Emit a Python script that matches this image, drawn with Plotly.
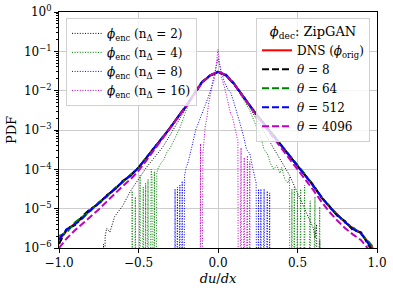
import plotly.graph_objects as go

# ---------------- data (log10 of PDF) ----------------
x_grid = [-1.00, -0.95, -0.90, -0.85, -0.80, -0.75, -0.70, -0.65, -0.60, -0.55,
          -0.50, -0.45, -0.40, -0.35, -0.30, -0.25, -0.20, -0.15, -0.10, -0.05,
          0.00, 0.05, 0.10, 0.15, 0.20, 0.25, 0.30, 0.35, 0.40, 0.45,
          0.50, 0.55, 0.60, 0.65, 0.70, 0.75, 0.80, 0.85, 0.90, 0.95, 1.00]

dns_log = [-5.80, -5.55, -5.38, -5.22, -5.03, -4.86, -4.68, -4.50, -4.32, -4.15,
           -3.96, -3.70, -3.45, -3.20, -2.94, -2.66, -2.39, -2.08, -1.78, -1.62,
           -1.52, -1.62, -1.82, -2.10, -2.38, -2.65, -2.90, -3.15, -3.40, -3.65,
           -3.90, -4.15, -4.42, -4.70, -4.95, -5.15, -5.35, -5.50, -5.62, -5.88, -6.15]
theta8_log = [-5.90, -5.50, -5.42, -5.18, -5.00, -4.88, -4.66, -4.52, -4.30, -4.16,
              -3.95, -3.71, -3.44, -3.21, -2.93, -2.67, -2.38, -2.09, -1.79, -1.62,
              -1.53, -1.61, -1.83, -2.11, -2.37, -2.66, -2.91, -3.14, -3.41, -3.66,
              -3.91, -4.16, -4.40, -4.72, -4.93, -5.18, -5.32, -5.55, -5.60, -5.95, -6.20]
theta64_log = [-5.70, -5.60, -5.35, -5.20, -5.05, -4.84, -4.70, -4.48, -4.33, -4.14,
               -3.97, -3.69, -3.46, -3.19, -2.95, -2.65, -2.40, -2.07, -1.77, -1.61,
               -1.52, -1.59, -1.81, -2.09, -2.39, -2.64, -2.89, -3.16, -3.39, -3.64,
               -3.89, -4.14, -4.43, -4.69, -4.96, -5.14, -5.36, -5.48, -5.65, -5.85, -6.10]
theta512_log = [-5.78, -5.52, -5.40, -5.24, -5.02, -4.87, -4.67, -4.51, -4.31, -4.16,
                -3.96, -3.71, -3.45, -3.20, -2.94, -2.66, -2.39, -2.08, -1.78, -1.61,
                -1.52, -1.60, -1.82, -2.10, -2.38, -2.65, -2.90, -3.15, -3.40, -3.65,
                -3.90, -4.16, -4.42, -4.70, -4.95, -5.16, -5.34, -5.52, -5.63, -5.90, -6.20]
theta4096_log = [-6.00, -5.75, -5.55, -5.38, -5.20, -5.02, -4.82, -4.62, -4.43, -4.25,
                 -4.04, -3.77, -3.50, -3.24, -2.97, -2.68, -2.40, -2.09, -1.79, -1.61,
                 -1.51, -1.60, -1.82, -2.11, -2.40, -2.68, -2.94, -3.20, -3.46, -3.72,
                 -3.98, -4.25, -4.53, -4.82, -5.08, -5.30, -5.50, -5.66, -5.80, -6.05, -6.30]

# encoded fields (None = empty bin, PDF = 0)
enc2_x = [-0.75, -0.72, -0.715, -0.71, -0.70, -0.68, -0.65, -0.60, -0.55, -0.50,
          -0.45, -0.40, -0.35, -0.30, -0.25, -0.20, -0.15, -0.10, -0.05, 0.00,
          0.05, 0.10, 0.15, 0.20, 0.25, 0.30, 0.35, 0.40, 0.45, 0.50,
          0.55, 0.58, 0.60, 0.61, 0.62, 0.63, 0.64, 0.65]
enc2_log = [None, -5.9, None, -5.7, -5.5, -5.6, -5.2, -4.93, -4.55, -4.25,
            -3.95, -3.7, -3.45, -3.12, -2.78, -2.42, -2.09, -1.79, -1.61, -1.53,
            -1.61, -1.83, -2.12, -2.43, -2.78, -3.12, -3.45, -3.8, -4.15, -4.6,
            -5.05, -5.35, -5.5, -5.75, -5.4, None, -5.8, None]

enc4_x = [-0.545, -0.54, -0.53, -0.52, -0.51, -0.49, -0.485, -0.47, -0.465, -0.455,
          -0.45, -0.44, -0.435, -0.42, -0.415, -0.41, -0.40, -0.395, -0.385, -0.38,
          -0.36, -0.34, -0.32, -0.30, -0.27, -0.24, -0.20, -0.15, -0.10, -0.05,
          0.00, 0.05, 0.10, 0.15, 0.20, 0.25, 0.27, 0.29, 0.31, 0.33,
          0.35, 0.37, 0.39, 0.40, 0.42, 0.44, 0.45, 0.455, 0.465, 0.47,
          0.48, 0.485, 0.50, 0.505, 0.52, 0.525, 0.545, 0.55, 0.58, 0.585,
          0.61, 0.615, 0.64, 0.645]
enc4_log = [None, -4.55, None, -4.7, None, -4.15, None, -4.45, None, -4.35,
            None, -4.25, None, -4.0, -4.2, None, -4.05, None, -4.1, -4.0,
            -3.85, -3.75, -3.55, -3.45, -3.2, -2.95, -2.5, -2.1, -1.8, -1.61,
            -1.52, -1.6, -1.82, -2.15, -2.5, -3.0, -3.2, -3.5, -3.6, -3.85,
            -4.0, -3.9, -4.1, -3.95, -4.25, -4.35, -4.2, None, -4.5, None,
            -4.45, None, -4.6, None, -4.5, None, -4.4, None, -4.8, None,
            -4.7, None, -4.95, None]

enc8_x = [-0.275, -0.27, -0.265, -0.255, -0.25, -0.24, -0.235, -0.225, -0.22, -0.21,
          -0.20, -0.19, -0.18, -0.16, -0.14, -0.12, -0.10, -0.08, -0.06, -0.04,
          -0.02, 0.00, 0.02, 0.04, 0.06, 0.08, 0.10, 0.12, 0.14, 0.16,
          0.18, 0.19, 0.20, 0.22, 0.23, 0.24, 0.245, 0.255, 0.26, 0.27,
          0.275, 0.29, 0.295, 0.31, 0.315, 0.325, 0.33]
enc8_log = [None, -4.5, None, -4.45, None, -4.4, None, -4.3, None, -4.15,
            -3.95, -3.85, -3.7, -3.35, -3.0, -2.8, -2.6, -2.4, -2.15, -1.9,
            -1.55, -1.18, -1.5, -1.78, -1.95, -2.05, -2.3, -2.55, -2.85, -3.15,
            -3.5, -3.55, -3.6, -4.0, -4.2, -4.35, None, -4.5, None, -4.5,
            None, -4.5, None, -4.55, None, -4.6, None]

enc16_x = [-0.115, -0.11, -0.105, -0.095, -0.09, -0.08, -0.07, -0.06, -0.04, -0.02,
           -0.01, 0.00, 0.01, 0.02, 0.04, 0.06, 0.07, 0.08, 0.09, 0.10,
           0.11, 0.12, 0.125, 0.13, 0.145, 0.15, 0.165, 0.17, 0.185, 0.19,
           0.20, 0.205]
enc16_log = [None, -3.35, None, -3.6, -3.3, -2.9, -2.7, -2.35, -1.95, -1.65,
             -1.3, -0.95, -1.3, -1.65, -1.9, -2.25, -2.45, -2.6, -2.65, -2.85,
             -3.0, -3.2, -3.25, None, -3.45, None, -3.7, None, -3.65, None,
             -3.8, None]

enc_labels = ["2", "4", "8", "16"]
theta_labels = ["8", "64", "512", "4096"]

# ---------------- helpers ----------------
EMPTY_BIN = 1e-12  # stand-in for a zero PDF on a log axis (clipped like matplotlib)


def to_pdf(logs):
    return [EMPTY_BIN if v is None else 10 ** v for v in logs]


MPL_R = "#ff0000"
MPL_K = "#000000"
MPL_G = "#008000"
MPL_B = "#0000ff"
MPL_M = "#bf00bf"

FONT = "DejaVu Serif, Liberation Serif, serif"

fig = go.Figure()

enc_series = [(enc2_x, enc2_log, MPL_K), (enc4_x, enc4_log, MPL_G),
              (enc8_x, enc8_log, MPL_B), (enc16_x, enc16_log, MPL_M)]
for (xs, ls, col), lab in zip(enc_series, enc_labels):
    fig.add_trace(go.Scatter(
        x=xs, y=to_pdf(ls), mode="lines",
        line=dict(color=col, width=1, dash="1px,1.6px"),
        name=f"<i>ϕ</i><sub>enc</sub> (n<sub>Δ</sub> = {lab})",
        legend="legend", showlegend=True))

fig.add_trace(go.Scatter(
    x=x_grid, y=to_pdf(dns_log), mode="lines",
    line=dict(color=MPL_R, width=2),
    name="DNS (<i>ϕ</i><sub>orig</sub>)", legend="legend2"))

theta_series = [(theta8_log, MPL_K), (theta64_log, MPL_G),
                (theta512_log, MPL_B), (theta4096_log, MPL_M)]
for (ls, col), lab in zip(theta_series, theta_labels):
    fig.add_trace(go.Scatter(
        x=x_grid, y=to_pdf(ls), mode="lines",
        line=dict(color=col, width=2, dash="7px,3px"),
        name=f"<i>θ</i> = {lab}", legend="legend2"))

y_tickvals = [1e-6, 1e-5, 1e-4, 1e-3, 1e-2, 1e-1, 1]
y_ticktext = ["10<sup>−6</sup>", "10<sup>−5</sup>", "10<sup>−4</sup>", "10<sup>−3</sup>",
              "10<sup>−2</sup>", "10<sup>−1</sup>", "10<sup>0</sup>"]
y_minor = [k * 10.0 ** e for e in range(-6, 0) for k in range(2, 10)]

x_tickvals = [-1.0, -0.5, 0.0, 0.5, 1.0]
x_ticktext = ["−1.0", "−0.5", "0.0", "0.5", "1.0"]

fig.update_layout(
    template="none",
    width=393, height=295,
    margin=dict(l=59, r=16, t=12, b=47, autoexpand=False),
    paper_bgcolor="white", plot_bgcolor="white",
    font=dict(family=FONT, size=12, color="black"),
    legend=dict(
        x=0.022, y=0.975, xanchor="left", yanchor="top",
        bgcolor="rgba(255,255,255,0.8)", bordercolor="#d0d0d0", borderwidth=1,
        font=dict(family=FONT, size=12), tracegroupgap=0, itemwidth=30),
    legend2=dict(
        x=0.978, y=0.975, xanchor="right", yanchor="top",
        bgcolor="rgba(255,255,255,0.8)", bordercolor="#d0d0d0", borderwidth=1,
        font=dict(family=FONT, size=12), tracegroupgap=0, itemwidth=30,
        title=dict(text="<i>ϕ</i><sub>dec</sub>: ZipGAN", side="top center",
                   font=dict(family=FONT, size=13))),
)

fig.update_xaxes(
    range=[-1.0, 1.0], tickmode="array", tickvals=x_tickvals, ticktext=x_ticktext,
    automargin=False,
    showline=True, linecolor="black", linewidth=1, mirror=True,
    ticks="outside", ticklen=4, tickcolor="black", tickfont=dict(size=12),
    showgrid=True, gridcolor="#cccccc", gridwidth=1, zeroline=False,
    title=dict(text="<i>du</i>/<i>dx</i>", standoff=4, font=dict(size=13)),
)
fig.update_yaxes(
    type="log", range=[-6, 0], tickmode="array", tickvals=y_tickvals, ticktext=y_ticktext,
    automargin=False,
    showline=True, linecolor="black", linewidth=1, mirror=True,
    ticks="outside", ticklen=4, tickcolor="black", tickfont=dict(size=12),
    minor=dict(tickvals=y_minor, ticks="outside", ticklen=2, tickcolor="black", showgrid=False),
    showgrid=True, gridcolor="#cccccc", gridwidth=1, zeroline=False,
    title=dict(text="PDF", standoff=4, font=dict(size=13)),
)

# the default page body has an 8px margin; remove it so the figure fills the window
fig.write_html(
    "out.html",
    config={"displayModeBar": False},
    post_script="document.body.style.margin='0';"
                "document.documentElement.style.overflow='hidden';",
)
